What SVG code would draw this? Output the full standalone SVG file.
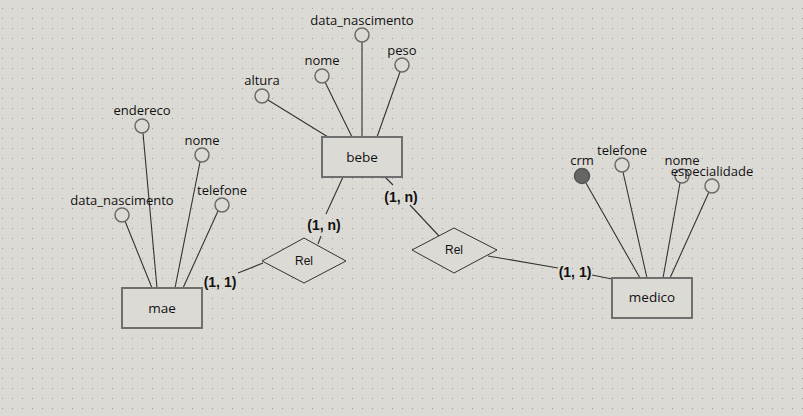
<svg xmlns="http://www.w3.org/2000/svg" width="803" height="416" viewBox="0 0 803 416">
<defs>
<pattern id="grid" x="0" y="0" width="10" height="10" patternUnits="userSpaceOnUse">
<rect x="2" y="8" width="1" height="1" fill="#9c9c9c"/>
</pattern>
<style>
.ent rect{fill:#dcdad5;stroke:#6f6f6f;stroke-width:2}
.ent text{font-family:"Open Sans","Noto Sans",sans-serif;font-size:13.5px;fill:#111;text-anchor:middle}
.att circle{fill:#dcdad5;stroke:#6a6a6a;stroke-width:1.5}
.att circle.key{fill:#666;stroke:#555}
.att text{font-family:"Open Sans","Noto Sans",sans-serif;font-size:13px;fill:#111;text-anchor:middle}
.rel polygon{fill:#dcdad5;stroke:#333;stroke-width:1}
.rel text{font-family:"Liberation Sans",Arial,sans-serif;font-size:12px;fill:#111;text-anchor:middle}
.conn line{stroke:#333;stroke-width:1.1}
.card{font-family:"Liberation Sans",Arial,sans-serif;font-size:14px;font-weight:bold;fill:#111;text-anchor:middle}
</style>
</defs>
<rect width="803" height="416" fill="#dcdad5"/>
<rect width="803" height="416" fill="url(#grid)"/>

<g id="connectors" class="conn">
<!-- bebe attributes -->
<line x1="362" y1="42" x2="362" y2="137"/>
<line x1="325" y1="82" x2="352" y2="137"/>
<line x1="268" y1="100" x2="328" y2="137"/>
<line x1="400" y1="72" x2="377" y2="137"/>
<!-- mae attributes -->
<line x1="143" y1="133" x2="157" y2="288"/>
<line x1="200" y1="162" x2="175" y2="288"/>
<line x1="218" y1="211" x2="183" y2="288"/>
<line x1="125" y1="221" x2="152" y2="288"/>
<!-- medico attributes -->
<line x1="582" y1="176" x2="640" y2="278"/>
<line x1="623" y1="172" x2="647" y2="278"/>
<line x1="680" y1="183" x2="663" y2="278"/>
<line x1="709" y1="192" x2="670" y2="278"/>
<!-- relationships -->
<line x1="343" y1="177" x2="326" y2="214"/>
<line x1="318" y1="244" x2="321" y2="236"/>
<line x1="263" y1="263" x2="238" y2="273"/>
<line x1="385" y1="177" x2="393" y2="185"/>
<line x1="410" y1="205" x2="439" y2="236"/>
<line x1="488" y1="256" x2="558" y2="268"/>
<line x1="592" y1="275" x2="612" y2="279"/>
</g>

<g id="bebe" class="ent"><rect x="322" y="137" width="80" height="40"/><text x="362" y="162">bebe</text></g>
<g id="mae" class="ent"><rect x="122" y="288" width="80" height="40"/><text x="162" y="313">mae</text></g>
<g id="medico" class="ent"><rect x="612" y="278" width="80" height="40"/><text x="652" y="302">medico</text></g>

<g id="rel1" class="rel"><polygon points="262,261 304,238 346,261 304,283"/><text x="304" y="265">Rel</text></g>
<g id="rel2" class="rel"><polygon points="412,250 454,228 497,250 454,273"/><text x="454" y="254">Rel</text></g>

<g id="bebe-data_nascimento" class="att"><circle cx="362" cy="35" r="7"/><text x="362" y="25">data_nascimento</text></g>
<g id="bebe-nome" class="att"><circle cx="322" cy="76" r="7"/><text x="322" y="65">nome</text></g>
<g id="bebe-altura" class="att"><circle cx="262" cy="96" r="7"/><text x="262" y="85">altura</text></g>
<g id="bebe-peso" class="att"><circle cx="402" cy="65" r="7"/><text x="402" y="55">peso</text></g>

<g id="mae-endereco" class="att"><circle cx="142" cy="126" r="7"/><text x="142" y="115">endereco</text></g>
<g id="mae-nome" class="att"><circle cx="202" cy="155" r="7"/><text x="202" y="145">nome</text></g>
<g id="mae-telefone" class="att"><circle cx="222" cy="205" r="7"/><text x="222" y="195">telefone</text></g>
<g id="mae-data_nascimento" class="att"><circle cx="122" cy="215" r="7"/><text x="122" y="205">data_nascimento</text></g>

<g id="medico-crm" class="att"><circle class="key" cx="582" cy="176" r="7.5"/><text x="582" y="165">crm</text></g>
<g id="medico-telefone" class="att"><circle cx="622" cy="165" r="7"/><text x="622" y="155">telefone</text></g>
<g id="medico-nome" class="att"><circle cx="682" cy="176" r="7"/><text x="682" y="165">nome</text></g>
<g id="medico-especialidade" class="att"><circle cx="712" cy="186" r="7"/><text x="712" y="176">especialidade</text></g>

<g id="cardinalities">
<text class="card" x="324" y="230">(1, n)</text>
<text class="card" x="220" y="287">(1, 1)</text>
<text class="card" x="401" y="202">(1, n)</text>
<text class="card" x="575" y="277">(1, 1)</text>
</g>
</svg>
